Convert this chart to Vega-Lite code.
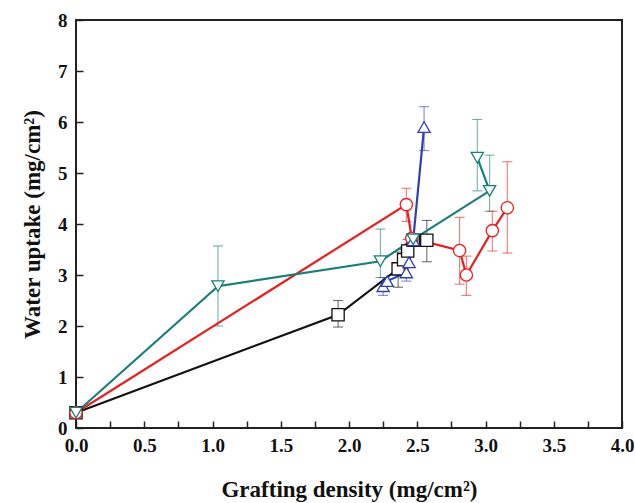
{
  "$schema": "https://vega.github.io/schema/vega-lite/v6.json",
  "width": 546,
  "height": 408,
  "autosize": {"type": "none"},
  "padding": {"left": 76, "top": 20, "right": 13, "bottom": 75},
  "background": "white",
  "config": {
    "view": {"stroke": "#222", "strokeWidth": 2},
    "axis": {"grid": false, "domain": false, "tickColor": "#222", "tickWidth": 1.5, "tickSize": -7}
  },
  "data": {"values": [
    {"s": "A", "ord": 1, "x": 0.0, "y": 0.3},
    {"s": "A", "ord": 2, "x": 1.92, "y": 2.22, "lo": 1.98, "hi": 2.5},
    {"s": "A", "ord": 3, "x": 2.36, "y": 3.12, "lo": 2.76, "hi": 3.45},
    {"s": "A", "ord": 4, "x": 2.40, "y": 3.3, "lo": 3.1, "hi": 3.5},
    {"s": "A", "ord": 5, "x": 2.43, "y": 3.47, "lo": 3.25, "hi": 3.7},
    {"s": "A", "ord": 6, "x": 2.47, "y": 3.68},
    {"s": "A", "ord": 7, "x": 2.57, "y": 3.68, "lo": 3.26, "hi": 4.07},
    {"s": "B", "ord": 1, "x": 0.0, "y": 0.3},
    {"s": "B", "ord": 2, "x": 2.42, "y": 4.38, "lo": 4.05, "hi": 4.7},
    {"s": "B", "ord": 3, "x": 2.46, "y": 3.72},
    {"s": "B", "ord": 4, "x": 2.81, "y": 3.48, "lo": 2.82, "hi": 4.13},
    {"s": "B", "ord": 5, "x": 2.86, "y": 3.0, "lo": 2.6, "hi": 3.37},
    {"s": "B", "ord": 6, "x": 3.05, "y": 3.87, "lo": 3.47, "hi": 4.25},
    {"s": "B", "ord": 7, "x": 3.16, "y": 4.32, "lo": 3.43, "hi": 5.22},
    {"s": "C", "ord": 1, "x": 2.25, "y": 2.78, "lo": 2.6, "hi": 2.95},
    {"s": "C", "ord": 2, "x": 2.28, "y": 2.88},
    {"s": "C", "ord": 3, "x": 2.42, "y": 3.05, "lo": 2.88, "hi": 3.2},
    {"s": "C", "ord": 4, "x": 2.44, "y": 3.25},
    {"s": "C", "ord": 5, "x": 2.47, "y": 3.68},
    {"s": "C", "ord": 6, "x": 2.55, "y": 5.9, "lo": 5.44, "hi": 6.3},
    {"s": "D", "ord": 1, "x": 0.0, "y": 0.3},
    {"s": "D", "ord": 2, "x": 1.04, "y": 2.78, "lo": 2.0, "hi": 3.57},
    {"s": "D", "ord": 3, "x": 2.23, "y": 3.27, "lo": 2.95, "hi": 3.9},
    {"s": "D", "ord": 4, "x": 2.47, "y": 3.7},
    {"s": "D", "ord": 5, "x": 3.03, "y": 4.65, "lo": 4.25, "hi": 5.35},
    {"s": "D", "ord": 6, "x": 2.94, "y": 5.3, "lo": 4.65, "hi": 6.05}
  ]},
  "encoding": {
    "x": {"field": "x", "type": "quantitative", "scale": {"domain": [0, 4], "nice": false},
      "axis": {"title": "Grafting density (mg/cm²)", "values": [0,0.25,0.5,0.75,1,1.25,1.5,1.75,2,2.25,2.5,2.75,3,3.25,3.5,3.75,4],
        "labelExpr": "datum.value % 0.5 == 0 ? format(datum.value, '.1f') : ''",
        "labelFont": "Liberation Serif", "labelFontSize": 19, "labelFontWeight": "bold", "labelColor": "#111",
        "titleFont": "Liberation Serif", "titleFontSize": 23, "titleFontWeight": "bold", "titleColor": "#111",
        "labelPadding": 15, "titlePadding": 23, "labelFlush": false}},
    "color": {"field": "s", "type": "nominal", "legend": null,
      "scale": {"domain": ["A", "B", "C", "D"], "range": ["#111111", "#ee1c1c", "#2f3fb5", "#16807a"]}}
  },
  "layer": [
    {
      "transform": [{"filter": "isValid(datum.lo)"}],
      "mark": {"type": "rule", "strokeWidth": 1.1, "opacity": 0.6},
      "encoding": {
        "y": {"field": "lo", "type": "quantitative", "scale": {"domain": [0, 8], "nice": false}},
        "y2": {"field": "hi"}
      }
    },
    {
      "transform": [{"filter": "isValid(datum.lo)"}],
      "mark": {"type": "tick", "orient": "horizontal", "size": 10, "thickness": 1.1, "opacity": 0.6},
      "encoding": {"y": {"field": "lo", "type": "quantitative"}}
    },
    {
      "transform": [{"filter": "isValid(datum.lo)"}],
      "mark": {"type": "tick", "orient": "horizontal", "size": 10, "thickness": 1.1, "opacity": 0.6},
      "encoding": {"y": {"field": "hi", "type": "quantitative"}}
    },
    {
      "mark": {"type": "line", "strokeWidth": 2.2},
      "encoding": {
        "y": {"field": "y", "type": "quantitative"},
        "order": {"field": "ord", "type": "quantitative"}
      }
    },
    {
      "mark": {"type": "point", "filled": false, "fill": "white", "fillOpacity": 1, "strokeWidth": 1.3, "size": 150, "opacity": 1},
      "encoding": {
        "y": {"field": "y", "type": "quantitative",
          "axis": {"title": "Water uptake (mg/cm²)", "values": [0,0.5,1,1.5,2,2.5,3,3.5,4,4.5,5,5.5,6,6.5,7,7.5,8],
            "labelExpr": "datum.value % 1 == 0 ? format(datum.value, 'd') : ''",
            "labelFont": "Liberation Serif", "labelFontSize": 19, "labelFontWeight": "bold", "labelColor": "#111",
            "titleFont": "Liberation Serif", "titleFontSize": 23, "titleFontWeight": "bold", "titleColor": "#111",
            "labelPadding": 16, "titlePadding": 13, "labelFlush": false}},
        "shape": {"field": "s", "type": "nominal", "legend": null,
          "scale": {"domain": ["A", "B", "C", "D"], "range": ["square", "circle", "triangle-up", "triangle-down"]}}
      }
    }
  ]
}
